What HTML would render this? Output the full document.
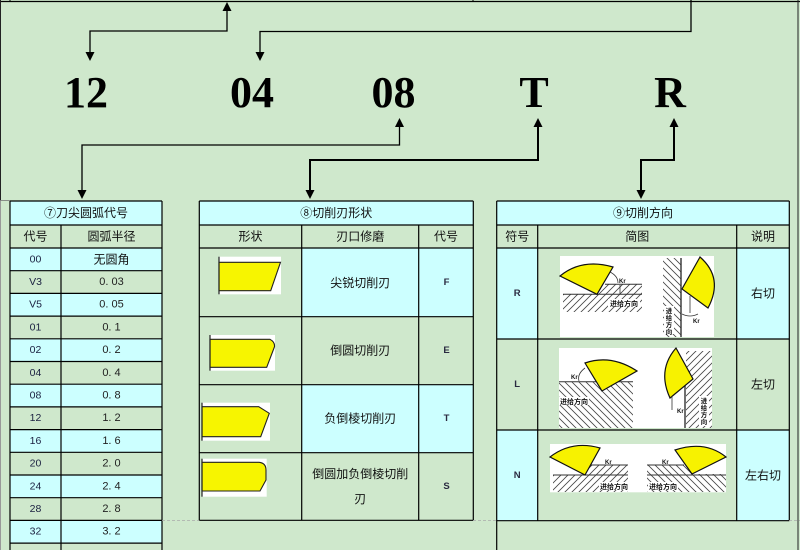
<!DOCTYPE html>
<html><head><meta charset="utf-8">
<style>
html,body{margin:0;padding:0;background:#cfe8cc;}
svg{display:block;}
.cj{font-family:"Liberation Sans","Noto Sans CJK SC",sans-serif;fill:#111;}
</style></head>
<body>
<svg width="800" height="550" viewBox="0 0 800 550" xmlns="http://www.w3.org/2000/svg">
<defs>
<pattern id="hs" patternUnits="userSpaceOnUse" width="7" height="7">
<path d="M-2,2 L2,-2 M0,7 L7,0 M5,9 L9,5" stroke="#444" stroke-width="0.8"/>
</pattern>
<pattern id="hb" patternUnits="userSpaceOnUse" width="7" height="7">
<path d="M-2,5 L2,9 M0,0 L7,7 M5,-2 L9,2" stroke="#444" stroke-width="0.8"/>
</pattern>
</defs>
<rect width="800" height="550" fill="#cfe8cc"/>

<!-- top frame -->
<line x1="0" y1="1.5" x2="800" y2="1.5" stroke="#000" stroke-width="1.2"/>
<line x1="10" y1="0" x2="10" y2="2" stroke="#000"/>
<line x1="473" y1="0" x2="473" y2="2" stroke="#000"/>
<line x1="0.5" y1="0" x2="0.5" y2="200" stroke="#222" stroke-width="1"/>
<line x1="0.5" y1="200" x2="0.5" y2="550" stroke="#999" stroke-width="1"/>
<line x1="798" y1="0" x2="798" y2="550" stroke="#222" stroke-width="1"/>
<line x1="0" y1="200.5" x2="10" y2="200.5" stroke="#777" stroke-width="0.8"/>

<!-- top arrows -->
<g stroke="#000" stroke-width="1.3" fill="none">
<polyline points="90,53 90,31 227,31 227,10"/>
<polyline points="691,0 691,31.5 260,31.5 260,53"/>
<polyline points="399.5,126 399.5,145 82,145 82,192"/>
</g>
<g stroke="#000" stroke-width="2" fill="none">
<polyline points="538,126 538,160 310,160 310,192"/>
<polyline points="674,126 674,160 641,160 641,192"/>
</g>
<g fill="#000">
<polygon points="227,2 222.5,11 231.5,11"/>
<polygon points="90,61 85.5,52 94.5,52"/>
<polygon points="260,61 255.5,52 264.5,52"/>
<polygon points="399.5,118 395,127 404,127"/>
<polygon points="538,118 533.5,127 542.5,127"/>
<polygon points="674,118 669.5,127 678.5,127"/>
<polygon points="82,199 77.5,190 86.5,190"/>
<polygon points="310,199 305.5,190 314.5,190"/>
<polygon points="641,199 636.5,190 645.5,190"/>
</g>

<!-- big codes -->
<g font-family="'Liberation Serif',serif" font-weight="bold" font-size="44" text-anchor="middle" fill="#000">
<text x="86" y="107">12</text>
<text x="252" y="107">04</text>
<text x="393.5" y="107">08</text>
<text x="534" y="107">T</text>
<text x="670" y="107">R</text>
</g>

<!-- ============ TABLE 1 ============ -->
<rect x="10" y="201" width="152" height="24" fill="#ccffff"/>
<g fill="#ccffff">
<rect x="10" y="248" width="152" height="22.7"/>
<rect x="10" y="293.4" width="152" height="22.7"/>
<rect x="10" y="338.8" width="152" height="22.7"/>
<rect x="10" y="384.2" width="152" height="22.7"/>
<rect x="10" y="429.6" width="152" height="22.7"/>
<rect x="10" y="475" width="152" height="22.7"/>
<rect x="10" y="520.4" width="152" height="22.7"/>
</g>
<g stroke="#000" stroke-width="1.2">
<line x1="10" y1="201" x2="162" y2="201"/>
<line x1="10" y1="225" x2="162" y2="225"/>
<line x1="10" y1="248" x2="162" y2="248"/>
<line x1="10" y1="270.7" x2="162" y2="270.7"/>
<line x1="10" y1="293.4" x2="162" y2="293.4"/>
<line x1="10" y1="316.1" x2="162" y2="316.1"/>
<line x1="10" y1="338.8" x2="162" y2="338.8"/>
<line x1="10" y1="361.5" x2="162" y2="361.5"/>
<line x1="10" y1="384.2" x2="162" y2="384.2"/>
<line x1="10" y1="406.9" x2="162" y2="406.9"/>
<line x1="10" y1="429.6" x2="162" y2="429.6"/>
<line x1="10" y1="452.3" x2="162" y2="452.3"/>
<line x1="10" y1="475" x2="162" y2="475"/>
<line x1="10" y1="497.7" x2="162" y2="497.7"/>
<line x1="10" y1="520.4" x2="162" y2="520.4"/>
<line x1="10" y1="543.1" x2="162" y2="543.1"/>
<line x1="10" y1="201" x2="10" y2="550"/>
<line x1="61" y1="225" x2="61" y2="550"/>
<line x1="162" y1="201" x2="162" y2="550"/>
</g>
<g class="cj" font-size="12" text-anchor="middle" dominant-baseline="central">
<text x="86" y="213">⑦刀尖圆弧代号</text>
<text x="35.5" y="236.5">代号</text>
<text x="111.5" y="236.5">圆弧半径</text>
<text x="111.5" y="259.5">无圆角</text>
</g>
<g font-family="'Liberation Sans',sans-serif" font-size="10.5" text-anchor="middle" dominant-baseline="central" fill="#1a2040">
<text x="35.5" y="259.4">00</text>
<text x="35.5" y="282">V3</text>
<text x="35.5" y="304.7">V5</text>
<text x="35.5" y="327.4">01</text>
<text x="35.5" y="350.1">02</text>
<text x="35.5" y="372.8">04</text>
<text x="35.5" y="395.5">08</text>
<text x="35.5" y="418.2">12</text>
<text x="35.5" y="440.9">16</text>
<text x="35.5" y="463.6">20</text>
<text x="35.5" y="486.3">24</text>
<text x="35.5" y="509">28</text>
<text x="35.5" y="531.7">32</text>
</g>
<g font-family="'Liberation Sans',sans-serif" font-size="11" text-anchor="middle" dominant-baseline="central" fill="#222">
<text x="111.5" y="282">0. 03</text>
<text x="111.5" y="304.7">0. 05</text>
<text x="111.5" y="327.4">0. 1</text>
<text x="111.5" y="350.1">0. 2</text>
<text x="111.5" y="372.8">0. 4</text>
<text x="111.5" y="395.5">0. 8</text>
<text x="111.5" y="418.2">1. 2</text>
<text x="111.5" y="440.9">1. 6</text>
<text x="111.5" y="463.6">2. 0</text>
<text x="111.5" y="486.3">2. 4</text>
<text x="111.5" y="509">2. 8</text>
<text x="111.5" y="531.7">3. 2</text>
</g>

<!-- ============ TABLE 2 ============ -->
<rect x="199.3" y="201" width="274" height="24" fill="#ccffff"/>
<rect x="301.7" y="248" width="171.6" height="68.7" fill="#ccffff"/>
<rect x="301.7" y="384.7" width="171.6" height="68" fill="#ccffff"/>
<g stroke="#000" stroke-width="1.2">
<line x1="199.3" y1="201" x2="473.3" y2="201"/>
<line x1="199.3" y1="225" x2="473.3" y2="225"/>
<line x1="199.3" y1="248" x2="473.3" y2="248"/>
<line x1="199.3" y1="316.7" x2="473.3" y2="316.7"/>
<line x1="199.3" y1="384.7" x2="473.3" y2="384.7"/>
<line x1="199.3" y1="452.7" x2="473.3" y2="452.7"/>
<line x1="199.3" y1="520.3" x2="473.3" y2="520.3"/>
<line x1="199.3" y1="201" x2="199.3" y2="520.3"/>
<line x1="301.7" y1="225" x2="301.7" y2="520.3"/>
<line x1="418.7" y1="225" x2="418.7" y2="520.3"/>
<line x1="473.3" y1="201" x2="473.3" y2="520.3"/>
</g>
<line x1="162" y1="520.5" x2="199" y2="520.5" stroke="#aaa" stroke-width="0.8" stroke-dasharray="3,2"/>
<line x1="473" y1="520.5" x2="497" y2="520.5" stroke="#aaa" stroke-width="0.8" stroke-dasharray="3,2"/>
<g class="cj" font-size="12" text-anchor="middle" dominant-baseline="central">
<text x="336.3" y="213">⑧切削刃形状</text>
<text x="250.5" y="236.5">形状</text>
<text x="360.2" y="236.5">刃口修磨</text>
<text x="446" y="236.5">代号</text>
<text x="360.2" y="283">尖锐切削刃</text>
<text x="360.2" y="350.7">倒圆切削刃</text>
<text x="360.2" y="418.7">负倒棱切削刃</text>
<text x="360.2" y="474">倒圆加负倒棱切削</text>
<text x="360.2" y="499">刃</text>
</g>
<g font-family="'Liberation Sans',sans-serif" font-weight="bold" font-size="9.5" text-anchor="middle" dominant-baseline="central" fill="#2a2a40">
<text x="446.5" y="282.5">F</text>
<text x="446.5" y="350.5">E</text>
<text x="446.5" y="418.5">T</text>
<text x="446.5" y="486.5">S</text>
</g>
<!-- shapes -->
<rect x="219" y="256.7" width="62" height="37.6" fill="#fff"/>
<polygon points="219,262.3 280.5,262.3 270.7,290.7 219,290.7" fill="#f7f500" stroke="#222" stroke-width="1.1"/>
<line x1="219" y1="256.7" x2="219" y2="294.3" stroke="#222" stroke-width="1.2"/>

<rect x="210" y="335" width="65" height="35.7" fill="#fff"/>
<path d="M210,339.3 L270,339.3 Q275,342 274.5,346.7 L266.7,367.3 L210,367.3 Z" fill="#f7f500" stroke="#222" stroke-width="1.1"/>
<line x1="210" y1="335" x2="210" y2="370.7" stroke="#222" stroke-width="1.2"/>

<rect x="202" y="402.7" width="68" height="38" fill="#fff"/>
<polygon points="202,406.7 258.7,406.7 269.3,413.3 260.7,436.7 202,436.7" fill="#f7f500" stroke="#222" stroke-width="1.1"/>
<line x1="202" y1="402.7" x2="202" y2="440.7" stroke="#222" stroke-width="1.2"/>

<rect x="202" y="458.7" width="64.7" height="38" fill="#fff"/>
<path d="M202,462.3 L259,462.3 Q266,463 266,470 L266,480 L260,491 L202,491 Z" fill="#f7f500" stroke="#222" stroke-width="1.1"/>
<line x1="202" y1="458.7" x2="202" y2="496.7" stroke="#222" stroke-width="1.2"/>

<!-- ============ TABLE 3 ============ -->
<rect x="496.7" y="201" width="292.6" height="24" fill="#ccffff"/>
<rect x="496.7" y="248" width="41" height="91" fill="#ccffff"/>
<rect x="736.7" y="248" width="52.6" height="91" fill="#ccffff"/>
<rect x="496.7" y="430" width="41" height="90.7" fill="#ccffff"/>
<rect x="736.7" y="430" width="52.6" height="90.7" fill="#ccffff"/>
<g stroke="#000" stroke-width="1.2">
<line x1="496.7" y1="201" x2="789.3" y2="201"/>
<line x1="496.7" y1="225" x2="789.3" y2="225"/>
<line x1="496.7" y1="248" x2="789.3" y2="248"/>
<line x1="496.7" y1="339" x2="789.3" y2="339"/>
<line x1="496.7" y1="430" x2="789.3" y2="430"/>
<line x1="496.7" y1="520.7" x2="789.3" y2="520.7"/>
<line x1="496.7" y1="201" x2="496.7" y2="550"/>
<line x1="537.7" y1="225" x2="537.7" y2="520.7"/>
<line x1="736.7" y1="225" x2="736.7" y2="520.7"/>
<line x1="789.3" y1="201" x2="789.3" y2="520.7"/>
</g>
<line x1="789" y1="520.5" x2="800" y2="520.5" stroke="#aaa" stroke-width="0.8" stroke-dasharray="3,2"/>
<g class="cj" font-size="12" text-anchor="middle" dominant-baseline="central">
<text x="643" y="213">⑨切削方向</text>
<text x="517.2" y="236.5">符号</text>
<text x="637.2" y="236.5">简图</text>
<text x="763" y="236.5">说明</text>
<text x="763" y="293.5">右切</text>
<text x="763" y="384.5">左切</text>
<text x="763" y="475.3">左右切</text>
</g>
<g font-family="'Liberation Sans',sans-serif" font-weight="bold" font-size="9.5" text-anchor="middle" dominant-baseline="central" fill="#2a2a40">
<text x="517.2" y="293.5">R</text>
<text x="517.2" y="384.5">L</text>
<text x="517.2" y="475.3">N</text>
</g>

<!-- Row R image -->
<g transform="translate(560,256)">
<rect width="154" height="81" fill="#fff"/>
<polygon points="3,38.3 37,38.3 45,28.3 82,28.3 82,56 3,56" fill="url(#hs)"/>
<line x1="3" y1="38.3" x2="82" y2="38.3" stroke="#333" stroke-width="1"/>
<line x1="45" y1="28.3" x2="82" y2="28.3" stroke="#333" stroke-width="1"/>
<line x1="60" y1="29" x2="60" y2="38" stroke="#333" stroke-width="0.8"/>
<path d="M37,38.3 L0,20 Q22,2 53,11 Z" fill="#f7f200" stroke="#111" stroke-width="1.2"/>
<path d="M50,16 Q58,20 58,27" fill="none" stroke="#333" stroke-width="0.8"/>
<rect x="48" y="43" width="32" height="8" fill="#fff"/>
<text x="64" y="50" font-family="'Noto Sans CJK SC',sans-serif" font-size="7" font-weight="bold" text-anchor="middle" fill="#111">进给方向</text>
<text x="59" y="27" font-family="'Liberation Sans',sans-serif" font-size="6" font-weight="bold" fill="#111">Kr</text>
<rect x="103" y="2" width="18" height="79" fill="url(#hb)"/>
<line x1="121" y1="2" x2="121" y2="81" stroke="#333" stroke-width="1.4"/>
<path d="M140,1 L122,33 L148,52 Q164,22 140,1 Z" fill="#f7f200" stroke="#111" stroke-width="1.2"/>
<line x1="130" y1="40" x2="130" y2="57" stroke="#333" stroke-width="0.8"/>
<path d="M122,58 Q130,62 138,58" fill="none" stroke="#333" stroke-width="0.8"/>
<rect x="104" y="50" width="10" height="28" fill="#fff"/>
<g font-family="'Noto Sans CJK SC',sans-serif" font-size="6.5" font-weight="bold" text-anchor="middle" fill="#111">
<text x="109" y="57">进</text><text x="109" y="64">给</text><text x="109" y="71">方</text><text x="109" y="78">向</text>
</g>
<text x="133" y="67" font-family="'Liberation Sans',sans-serif" font-size="6" font-weight="bold" fill="#111">Kr</text>
</g>

<!-- Row L image -->
<g transform="translate(559,348)">
<rect width="153" height="80" fill="#fff"/>
<rect x="0" y="34" width="74" height="46" fill="url(#hb)"/>
<line x1="0" y1="33.7" x2="74" y2="33.7" stroke="#333" stroke-width="1"/>
<path d="M43,43 L26,15 Q52,6 78,23 Z" fill="#f7f200" stroke="#111" stroke-width="1.2"/>
<path d="M26,20 Q18,26 20,33" fill="none" stroke="#333" stroke-width="0.8"/>
<text x="12" y="31" font-family="'Liberation Sans',sans-serif" font-size="6" font-weight="bold" fill="#111">Kr</text>
<rect x="0" y="49" width="30" height="8" fill="#fff"/>
<text x="15" y="56" font-family="'Noto Sans CJK SC',sans-serif" font-size="7" font-weight="bold" text-anchor="middle" fill="#111">进给方向</text>
<rect x="127" y="3" width="26" height="77" fill="url(#hs)"/>
<line x1="126" y1="33" x2="126" y2="80" stroke="#333" stroke-width="1.4"/>
<path d="M117,0 L134,31 L111,50 Q98,22 117,0 Z" fill="#f7f200" stroke="#111" stroke-width="1.2"/>
<line x1="113" y1="48" x2="113" y2="62" stroke="#333" stroke-width="0.8"/>
<text x="118" y="65" font-family="'Liberation Sans',sans-serif" font-size="6" font-weight="bold" fill="#111">Kr</text>
<rect x="140" y="48" width="10" height="30" fill="#fff"/>
<g font-family="'Noto Sans CJK SC',sans-serif" font-size="6.5" font-weight="bold" text-anchor="middle" fill="#111">
<text x="145" y="55">进</text><text x="145" y="62">给</text><text x="145" y="69">方</text><text x="145" y="76">向</text>
</g>
</g>

<!-- Row N image -->
<g transform="translate(550,444)">
<rect width="176" height="48.3" fill="#fff"/>
<polygon points="3,31 35,31 40,21 78,21 78,48 3,48" fill="url(#hs)"/>
<line x1="40" y1="21" x2="78" y2="21" stroke="#333" stroke-width="1"/>
<line x1="3" y1="31" x2="78" y2="31" stroke="#333" stroke-width="1"/>
<path d="M35,31 L0,13 Q22,-4 50,4 Z" fill="#f7f200" stroke="#111" stroke-width="1.2"/>
<text x="55" y="20" font-family="'Liberation Sans',sans-serif" font-size="6" font-weight="bold" fill="#111">Kr</text>
<rect x="49" y="38" width="30" height="8" fill="#fff"/>
<text x="64" y="45" font-family="'Noto Sans CJK SC',sans-serif" font-size="7" font-weight="bold" text-anchor="middle" fill="#111">进给方向</text>
<polygon points="97,21 136,21 142,30 176,30 176,48 97,48" fill="url(#hb)"/>
<line x1="97" y1="21" x2="134" y2="21" stroke="#333" stroke-width="1"/>
<line x1="97" y1="31" x2="176" y2="31" stroke="#333" stroke-width="1"/>
<path d="M142,30 L176,13 Q155,-4 125,6 Z" fill="#f7f200" stroke="#111" stroke-width="1.2"/>
<text x="112" y="20" font-family="'Liberation Sans',sans-serif" font-size="6" font-weight="bold" fill="#111">Kr</text>
<rect x="98" y="38" width="30" height="8" fill="#fff"/>
<text x="113" y="45" font-family="'Noto Sans CJK SC',sans-serif" font-size="7" font-weight="bold" text-anchor="middle" fill="#111">进给方向</text>
</g>

</svg>
</body></html>
